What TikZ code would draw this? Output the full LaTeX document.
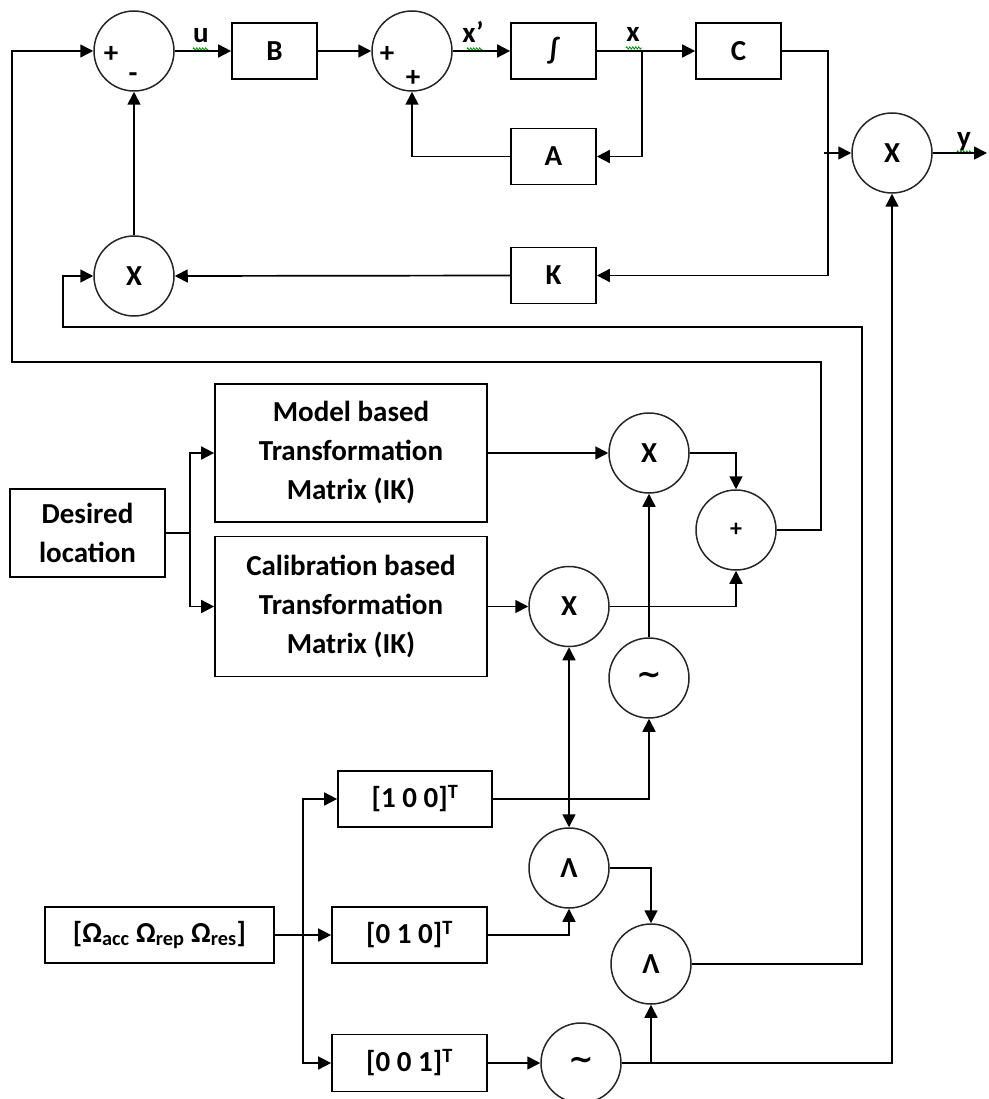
\documentclass[tikz,border=0pt]{standalone}
\usepackage{fontspec}
\setmainfont{Carlito}
\newfontfamily\dejavu{DejaVu Sans}
\usetikzlibrary{arrows.meta,decorations.pathmorphing}
\newcommand{\tld}{\raisebox{-3pt}{\dejavu\fontsize{30}{32}\selectfont\bfseries ∼}}
\begin{document}
\begin{tikzpicture}[x=1pt,y=-1pt,
  txt/.style={font=\fontsize{29}{39}\selectfont\bfseries},
  blk/.style={draw, line width=1.7pt, minimum width=85pt, minimum height=56pt, inner sep=0pt, align=center, txt},
  circ/.style={draw, circle, line width=1.5pt, draw=black!85, minimum size=80pt, inner sep=0pt, txt},
  sgn/.style={inner sep=0pt, txt},
  lbl/.style={inner sep=0pt, anchor=base, txt},
  conn/.style={line width=1.7pt},
  arr/.style={conn, -{Triangle[length=13pt,width=13pt]}},
  darr/.style={conn, {Triangle[length=13pt,width=13pt]}-{Triangle[length=13pt,width=13pt]}},
  squig/.style={green!60!black, line width=0.8pt, decorate, decoration={zigzag, segment length=3pt, amplitude=1.2pt}}
]
\useasboundingbox (0,0) rectangle (988,1099);
% top row
\node[circ] (s1) at (134,51) {};
\node[blk] (B) at (274.5,51) {B};
\node[circ] (s2) at (412,51) {};
\node[blk] (I) at (553.5,51) {∫};
\node[blk] (C) at (738.5,51) {C};
\node[circ] (m0) at (892,153) {X};
\node[blk] (A) at (553.5,156.5) {A};
\node[blk] (K) at (553.5,275.5) {K};
\node[circ] (m1) at (134,276) {X};
% signs
\node[sgn] (p1) at (111,54) {+};
\node[sgn] (n1) at (133,78) {-};
\node[sgn] (p2) at (387,54) {+};
\node[sgn] (p3) at (413,78) {+};
% middle
\node[blk, minimum width=155pt, minimum height=88pt] (des) at (87.5,533) {Desired\\location};
\node[blk, minimum width=272pt, minimum height=138pt] (mod) at (351,453) {Model based\\Transformation\\Matrix (IK)};
\node[blk, minimum width=272pt, minimum height=140pt] (cal) at (351,606.5) {Calibration based\\Transformation\\Matrix (IK)};
\node[circ] (mA) at (649,453) {X};
\node[circ] (mB) at (569,606.5) {X};
\node[circ, font=\fontsize{24}{26}\selectfont\bfseries] (pl) at (736,530) {+};
\node[circ] (t1) at (649,678) {\tld};
% bottom
\node[blk, minimum width=154pt] (v1) at (415,799) {[1 0 0]\textsuperscript{T}};
\node[blk, minimum width=229pt] (om) at (159.5,935) {[Ω\textsubscript{acc} Ω\textsubscript{rep} Ω\textsubscript{res}]};
\node[blk, minimum width=155pt] (v2) at (409.5,935) {[0 1 0]\textsuperscript{T}};
\node[blk, minimum width=155pt, minimum height=57pt] (v3) at (409.5,1063) {[0 0 1]\textsuperscript{T}};
\node[circ] (l1) at (569,868) {Λ};
\node[circ] (l2) at (651,964) {Λ};
\node[circ] (t2) at (581,1063) {\tld};
% coordinates
\coordinate (j1) at (642,51);
\coordinate (kc) at (828,275.5);
\coordinate (j2) at (824,153);
\coordinate (yout) at (987,153);
\coordinate (fb1) at (862,327);
\coordinate (fb2) at (63,327);
\coordinate (ob1) at (821,362);
\coordinate (ob2) at (12,362);
\coordinate (dj) at (190,533);
\coordinate (oj) at (303,935);
% labels
\node[lbl] (lu) at (201,43) {u};
\node[lbl] (lx1) at (473,43) {x’};
\node[lbl] (lx) at (633,42) {x};
\node[lbl] (ly) at (964,147) {y};
\draw[squig] (193,49) -- (208,49);
\draw[squig] (467,49) -- (482,49);
\draw[squig] (626,48) -- (642,48);
\draw[squig] (957,152) -- (973,152);
% top connectors
\draw[arr] (s1.east) -- (B.west);
\draw[arr] (B.east) -- (s2.west);
\draw[arr] (s2.east) -- (I.west);
\draw[arr] (I.east) -- (C.west);
\draw[arr] (j1) |- (A.east);
\draw[arr] (A.west) -| (s2.south);
\draw[conn] (C.east) -| (kc);
\draw[arr] (kc) -- (K.east);
\draw[arr] (j2) -- (m0.west);
\draw[arr] (m0.east) -- (yout);
\draw[arr] (K.west) -- (m1.east);
\draw[arr] (m1.north) -- (s1.south);
\draw[arr] (l2.east) -| (fb1) -- (fb2) |- (m1.west);
\draw[arr] (pl.east) -| (ob1) -- (ob2) |- (s1.west);
% middle connectors
\draw[conn] (des.east) -- (dj);
\draw[arr] (dj) |- (mod.west);
\draw[arr] (dj) |- (cal.west);
\draw[arr] (mod.east) -- (mA.west);
\draw[arr] (cal.east) -- (mB.west);
\draw[arr] (mA.east) -| (pl.north);
\draw[arr] (mB.east) -| (pl.south);
\draw[arr] (t1.north) -- (mA.south);
% bottom connectors
\draw[arr] (v1.east) -| (t1.south);
\draw[darr] (mB.south) -- (l1.north);
\draw[arr] (v2.east) -| (l1.south);
\draw[arr] (l1.east) -| (l2.north);
\draw[arr] (v3.east) -- (t2.west);
\draw[arr] (t2.east) -| (m0.south);
\draw[arr] (l2.south |- t2.east) -- (l2.south);
\draw[conn] (om.east) -- (oj);
\draw[arr] (oj) |- (v1.west);
\draw[arr] (oj) -- (v2.west);
\draw[arr] (oj) |- (v3.west);
\end{tikzpicture}
\end{document}
